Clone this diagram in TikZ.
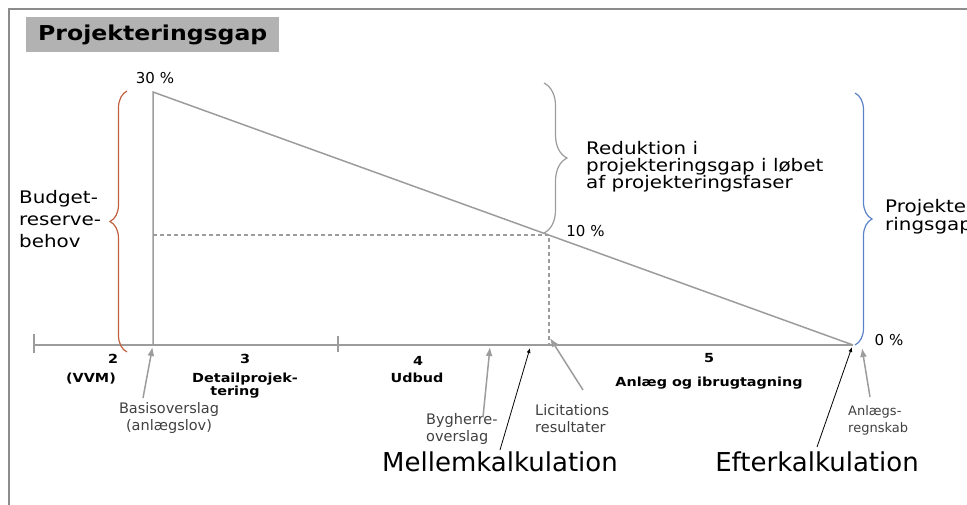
\documentclass[tikz,border=0pt]{standalone}
\usepackage{fontspec}
\setmainfont{DejaVu Sans}
\newfontfamily\widefont{DejaVu Sans}[FakeStretch=1.15]
\usetikzlibrary{decorations.pathreplacing,arrows.meta}
\definecolor{framegray}{HTML}{8C8C8C}
\definecolor{linegray}{HTML}{9C9C9C}
\definecolor{titlegray}{HTML}{B2B2B2}
\definecolor{bracered}{HTML}{C0603F}
\definecolor{braceblue}{HTML}{5B82C8}
\definecolor{labelgray}{HTML}{404040}
\tikzset{
  gline/.style={linegray, line width=1.5pt},
  dline/.style={linegray, line width=1.2pt, dash pattern=on 4pt off 3pt},
  garrow/.style={linegray, line width=1.5pt, -{Latex[length=9pt,width=7pt]}},
  karrow/.style={black, line width=0.8pt, -{Latex[length=5pt,width=4pt]}},
  axlabel/.style={inner sep=0pt, anchor=base, font=\widefont\bfseries\fontsize{12.5}{15}\selectfont},
  smalllabel/.style={inner sep=0pt, text=labelgray, font=\fontsize{14.5}{17}\selectfont},
  pct/.style={inner sep=0pt, font=\fontsize{15}{18}\selectfont},
  biglabel/.style={inner sep=0pt, anchor=base, font=\fontsize{26}{30}\selectfont},
  bracetext/.style={inner sep=0pt, align=left, font=\widefont\fontsize{17.3}{17}\selectfont},
}
\begin{document}
\begin{tikzpicture}[x=1pt,y=-1pt]
\useasboundingbox (0,0) rectangle (967,504);
\clip (0,0) rectangle (967,504);
% frame
\draw[framegray, line width=1.5pt] (9,520) -- (9,9) -- (990,9);
% title
\node[fill=titlegray, anchor=north west, minimum width=253pt, minimum height=35pt,
      inner xsep=12pt, inner ysep=0pt, text width=229pt, align=left,
      font=\widefont\bfseries\fontsize{20.5}{24}\selectfont] (title) at (26,17) {Projekteringsgap};
% key points
\coordinate (top) at (153,92);
\coordinate (origin) at (153,345);
\coordinate (zero) at (853,345);
\coordinate (mid) at (549,235);
\coordinate (midaxis) at (549,345);
\coordinate (midleft) at (153,235);
\coordinate (axstart) at (34,345);
\coordinate (tick) at (338,345);
% axis
\draw[gline] (axstart) -- (zero);
\draw[gline] ([yshift=-8pt]axstart) -- ([yshift=11pt]axstart);
\draw[gline] ([yshift=-7pt]tick) -- ([yshift=9pt]tick);
% main lines
\draw[gline] (origin) -- (top) -- (zero);
\draw[dline] (midleft) -- (mid) -- (midaxis);
% braces
\draw[bracered, line width=1.2pt, decorate, decoration={brace, amplitude=17pt}] (127,352) -- (127,91);
\draw[linegray, line width=1.2pt, decorate, decoration={brace, amplitude=23pt}] (544,83) -- (544,233);
\draw[braceblue, line width=1.2pt, decorate, decoration={brace, amplitude=17pt}] (855,93) -- (855,345);
% percent labels
\node[pct] (p30) at (155,78) {30 \%};
\node[pct] (p10) at (585.5,231.5) {10 \%};
\node[pct] (p0) at (889,340) {0 \%};
% brace texts
\node[bracetext, anchor=north west, font=\widefont\fontsize{17.3}{22}\selectfont] (budget) at (19,190) {Budget-\\reserve-\\behov};
\node[bracetext, anchor=north west] (reduk) at (586,141) {Reduktion i\\projekteringsgap i løbet\\af projekteringsfaser};
\node[bracetext, anchor=north west, font=\widefont\fontsize{17.3}{11.5}\selectfont] (projgap) at (885,199) {Projekte-\\ringsgap};
% axis labels
\node[axlabel] (n2) at (113,363) {2};
\node[axlabel] (vvm) at (91,382) {(VVM)};
\node[axlabel] (n3) at (245,363) {3};
\node[axlabel] (detail) at (245,382) {Detailprojek-};
\node[axlabel] (tering) at (235,395.5) {tering};
\node[axlabel] (n4) at (418,365) {4};
\node[axlabel] (udbud) at (417,382.5) {Udbud};
\node[axlabel] (n5) at (709,362.5) {5};
\node[axlabel] (anlaeg) at (709,386.5) {Anlæg og ibrugtagning};
% small labels
\node[smalllabel, anchor=north, align=center] (basis) at (169,402) {Basisoverslag\\(anlægslov)};
\node[smalllabel, anchor=north west, align=left] (byg) at (426,413) {Bygherre-\\overslag};
\node[smalllabel, anchor=north west, align=left] (licit) at (535,404) {Licitations\\resultater};
\node[smalllabel, anchor=north west, align=left, font=\fontsize{13}{17}\selectfont] (anlregn) at (848,405) {Anlægs-\\regnskab};
% big labels
\node[biglabel] (mellem) at (500,471.5) {Mellemkalkulation};
\node[biglabel] (efter) at (817,471.5) {Efterkalkulation};
% arrow ends
\coordinate (basisT) at (143,398);
\coordinate (basisH) at (152.5,347);
\coordinate (bygT) at (483,417);
\coordinate (bygH) at (490,347);
\coordinate (mellemT) at (500,450);
\coordinate (mellemH) at (530,348);
\coordinate (licitT) at (583,390);
\coordinate (licitH) at (550,338);
\coordinate (efterT) at (817,447);
\coordinate (efterH) at (852,347);
\coordinate (anlT) at (870,397);
\coordinate (anlH) at (862,348);
\draw[garrow] (basisT) -- (basisH);
\draw[garrow] (bygT) -- (bygH);
\draw[karrow] (mellemT) -- (mellemH);
\draw[garrow] (licitT) -- (licitH);
\draw[karrow] (efterT) -- (efterH);
\draw[garrow] (anlT) -- (anlH);
\end{tikzpicture}
\end{document}
